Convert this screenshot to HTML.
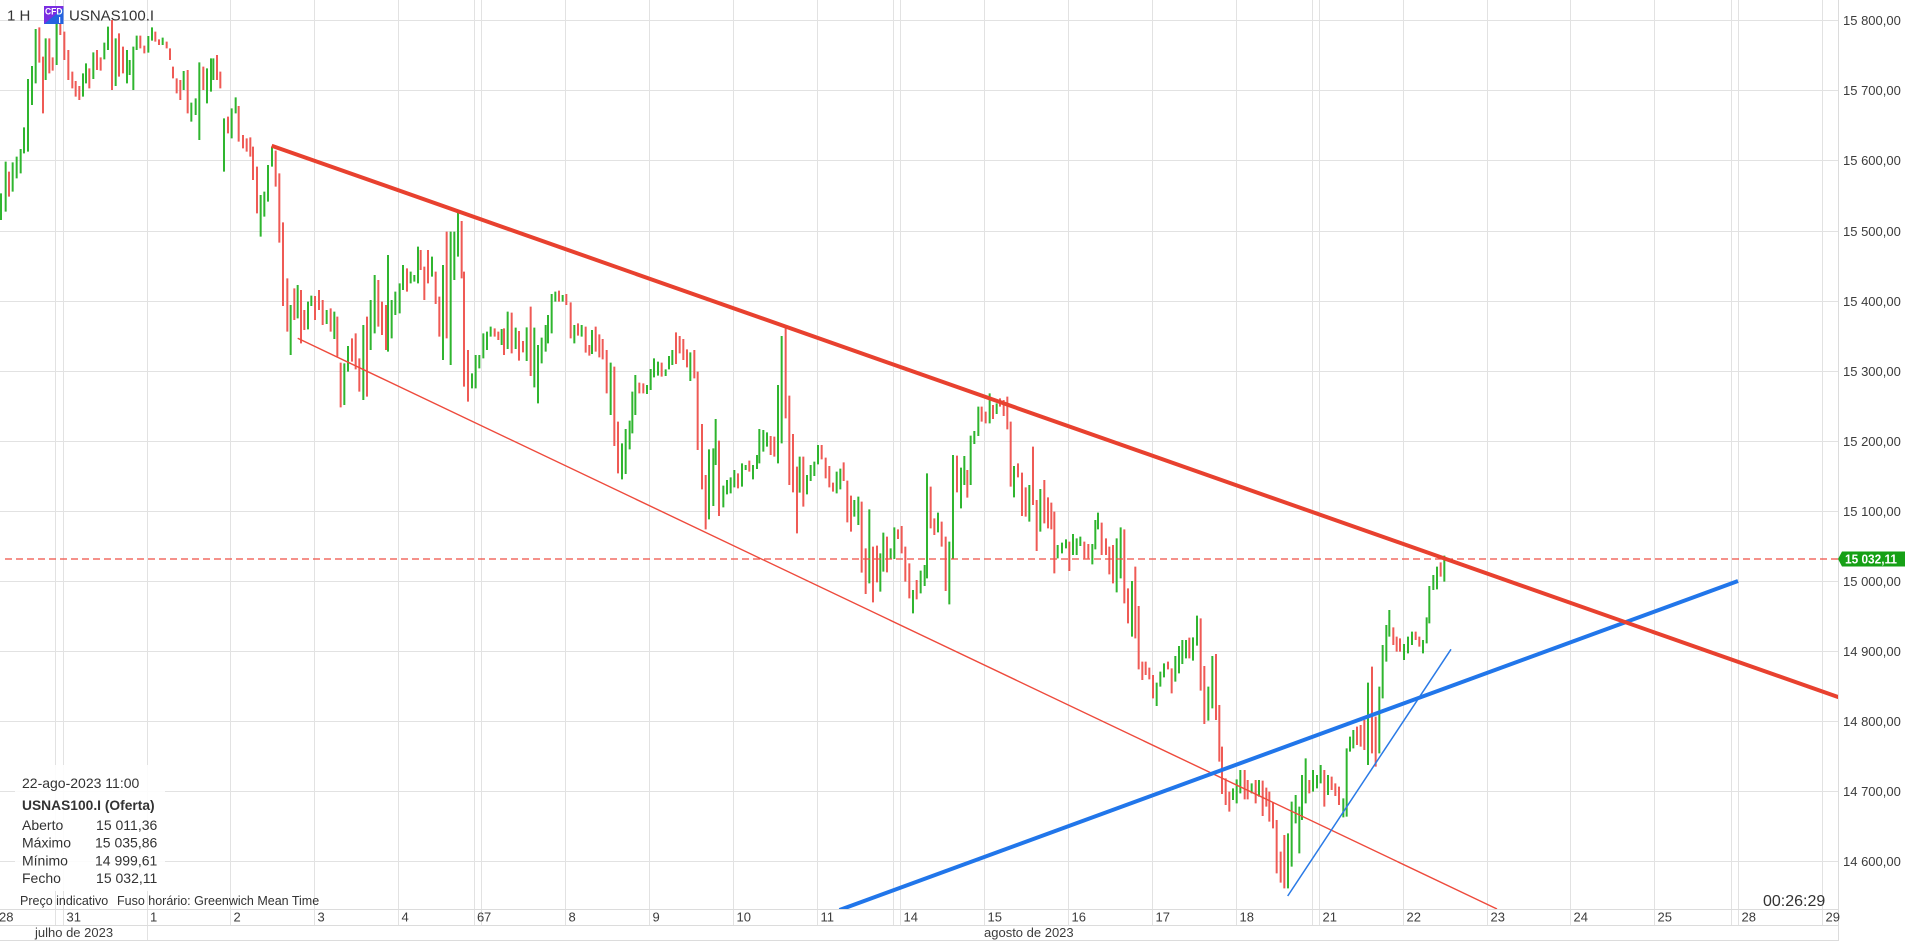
<!DOCTYPE html>
<html>
<head>
<meta charset="utf-8">
<style>
html,body{margin:0;padding:0;background:#fff;}
body{width:1905px;height:942px;overflow:hidden;}
svg{display:block;}
</style>
</head>
<body>
<svg width="1905" height="942" viewBox="0 0 1905 942" xmlns="http://www.w3.org/2000/svg" font-family="'Liberation Sans', Arial, sans-serif">
<defs>
<clipPath id="plot"><rect x="0" y="0" width="1838" height="909"/></clipPath>
</defs>
<rect x="0" y="0" width="1905" height="942" fill="#fff"/>

<!-- horizontal grid -->
<g stroke="#e2e2e2" stroke-width="1">
<path d="M0 20.5H1838M0 90.5H1838M0 160.5H1838M0 231.5H1838M0 301.5H1838M0 371.5H1838M0 441.5H1838M0 511.5H1838M0 581.5H1838M0 651.5H1838M0 721.5H1838M0 791.5H1838M0 861.5H1838"/>
<path d="M55.5 0V925M63.5 0V925M147.5 0V941M230.5 0V925M314.5 0V925M398.5 0V925M474.5 0V925M481.5 0V925M565.5 0V925M649.5 0V925M733.5 0V925M817.5 0V925M893.5 0V925M900.5 0V925M984.5 0V925M1068.5 0V925M1152.5 0V925M1236.5 0V925M1312.5 0V925M1319.5 0V925M1403.5 0V925M1487.5 0V925M1570.5 0V925M1654.5 0V925M1731.5 0V925M1738.5 0V925M1822.5 0V925"/>
</g>
<!-- axis frame -->
<g stroke="#dcdcdc" stroke-width="1">
<path d="M0 909.5H1838.5M0 925.5H1838.5M0 940.5H1838.5M1838.5 0V941"/>
</g>

<g clip-path="url(#plot)">
<!-- bars zone 1 -->
<g transform="translate(0,0) scale(0.33333)" fill="none" stroke-width="6">
<path stroke="#2fb52f" d="M3 580V660M17 485V635M38 487V575M50 470V535M62 447V520M72 382V460M84 237V455M96 198V315M107 87V250M137 115V240M170 55V195M249 220V290M258 190V250M280 157V237M313 128V178M324 80V150M347 115V258M381 150V250M389 180V225M400 140V270M410 107V150M445 108V158M456 82V122M488 113V135M551 213V270M574 308V365M587 295V345M598 187V420M621 205V310M633 175V275M640 175V240M672 355V515M695 325V415M707 292V340M782 585V710M793 575V650M804 495V605M816 440V500M872 915V1065M893 855V955M924 905V988M934 887V918M980 930V972M1003 935V1017M1033 1090V1215M1044 1038V1115M1090 975V1200M1112 900V1050M1124 825V1000M1164 765V1055M1175 900V1015M1186 875V945M1199 850V940M1209 795V870M1232 815V850M1243 825V845M1254 740V850M1296 770V830M1329 795V1080M1352 695V1095M1363 695V840M1374 635V770M1416 1120V1165M1427 1065V1165M1438 1065V1105M1450 1000V1075M1461 995V1050M1472 980V1010"/>
<path stroke="#ef5a55" d="M27 515V590M118 82V188M129 170V340M148 115V220M158 172V212M181 70V105M193 95V180M205 150V240M217 215V265M227 243V290M238 258V300M268 205V265M291 150V210M302 172V212M336 60V270M357 100V230M369 140V220M421 107V145M433 137V160M466 95V125M477 118V135M500 125V145M510 145V180M519 200V235M530 235V280M541 240V300M563 210V340M610 200V270M651 165V240M661 215V265M684 350V400M716 318V425M729 405V445M740 415V455M751 412V470M759 440V540M771 500V640M827 452V560M838 520V728M849 667V918M862 835V995M883 865V960M903 870V1030M913 930V990M945 888V960M957 870V930M968 900V975M992 925V995M1012 950V1070M1022 1088V1222M1056 1015V1085M1067 1000V1108M1078 1075V1175M1101 950V1190M1135 840V980M1146 905V1005M1158 915V1050M1221 805V875M1262 750V810M1273 800V900M1284 750V850M1307 815V912M1318 890V1010M1340 695V1015M1385 663V835M1392 815V1160M1404 1050V1205M1484 985V1010M1495 995V1020"/>
</g>
<!-- bars zone 2 -->
<g transform="translate(495,270) scale(0.33333)" fill="none" stroke-width="6">
<path stroke="#2fb52f" d="M20 177V225M38 125V237M62 173V237M95 172V273M118 173V352M129 225V400M140 203V280M152 165V245M159 135V220M170 72V190M181 65V95M203 75V95M238 165V220M260 165V200M291 180V252M347 278V435M381 520V628M392 477V612M404 452V538M412 365V490M421 315V435M456 345V372M467 297V360M477 265V322M489 275V317M512 298V318M522 258V298M532 240V285M586 247V333M642 538V748M655 535V708M662 447V585M685 647V712M696 630V673M707 622V670M718 600V652M741 580V650M752 585V600M774 585V628M786 555V597M793 477V580M805 480V545M816 487V530M849 345V580M860 198V520M914 560V668M936 615V673M947 585V633M958 575V618M969 525V583M1025 605V670M1036 596V658M1078 690V740M1090 680V765M1123 718V940M1156 850V965M1165 788V905M1187 835V868M1198 772V867M1254 960V1030M1277 902V970M1289 885V948M1296 610V925M1329 728V787M1363 815V1003M1374 555V868M1398 593V715M1408 558V645M1427 497V645M1438 483V522M1450 410V498M1484 370V460"/>
<path stroke="#ef5a55" d="M27 175V255M50 128V250M72 183V272M84 213V247M107 110V318M192 62V95M214 72V105M227 97V205M249 160V197M272 170V248M283 225V257M302 170V245M313 193V262M323 207V268M335 240V370M358 290V528M369 455V610M433 338V370M445 340V370M500 278V320M543 187V282M554 198V250M565 207V270M576 238V292M598 240V325M608 305V540M621 462V658M632 615V778M672 512V738M729 610V655M763 572V605M827 498V555M838 500V560M872 172V445M883 377V645M894 492V667M906 590V790M925 560V710M980 525V568M992 563V625M1003 588V652M1014 638V665M1046 577V633M1057 632V757M1068 677V785M1100 695V908M1112 835V972M1134 830V997M1146 827V937M1176 800V907M1209 778V807M1220 768V850M1231 830V935M1243 880V985M1265 930V988M1307 650V775M1318 745V795M1340 755V830M1352 800V963M1386 557V667M1417 600V683M1460 410V455M1472 425V460M1494 405V447"/>
</g>
<!-- bars zone 3 -->
<g transform="translate(990,390) scale(0.33333)" fill="none" stroke-width="6">
<path stroke="#2fb52f" d="M20 40V72M72 228V322M118 285V395M151 297V425M203 465V505M216 458V490M228 448V475M249 432V495M260 445V495M271 440V468M307 462V523M316 390V478M324 368V418M380 445V607M392 412V565M426 573V740M500 878V948M511 845V890M522 820V862M556 798V875M567 768V850M577 750V822M588 750V805M609 742V812M621 677V767M655 890V992M667 798V955M729 1195V1230M740 1168V1240M751 1140V1210M785 1180V1210M807 1170V1220M894 1330V1495M905 1235V1430M917 1215V1300M928 1250V1390M936 1155V1290M947 1105V1240M969 1140V1205M981 1155V1195M992 1125V1180M1014 1155V1215M1060 1225V1282M1070 1075V1280M1080 1040V1085M1090 1020V1075M1134 878V1125M1168 890V1090M1178 765V925M1189 705V815M1198 660V740M1242 762V810M1254 740V790M1266 725V765M1299 750V790M1310 682V760M1318 588V700M1330 555V600M1341 530V598M1363 497V575"/>
<path stroke="#ef5a55" d="M30 25V50M41 30V78M52 20V118M62 95V290M84 220V262M96 248V378M107 292V380M129 170V345M140 330V483M163 270V400M174 322V415M184 338V418M193 365V550M238 455V543M283 455V505M295 462V505M335 398V495M348 445V495M358 470V553M369 465V580M403 418V640M414 595V700M436 530V745M446 648V838M457 815V870M467 815V855M478 833V868M489 855V925M534 815V838M545 835V910M598 743V805M632 685V902M643 828V1002M678 792V990M688 945V1115M696 1070V1212M707 1165V1245M718 1205V1265M764 1140V1228M773 1170V1228M797 1170V1240M818 1172V1278M829 1193V1250M838 1205V1295M849 1237V1315M860 1290V1450M872 1385V1478M883 1335V1495M958 1170V1210M1003 1140V1250M1025 1160V1200M1036 1180V1218M1047 1190V1245M1101 1010V1065M1112 1005V1070M1123 990V1080M1146 830V1090M1157 980V1130M1210 712V765M1220 740V785M1230 745V785M1277 725V750M1288 740V770M1352 517V560"/>
</g>

<!-- current price dashed line -->
<line x1="5" y1="559" x2="1838" y2="559" stroke="#ef4f45" stroke-width="1.2" stroke-dasharray="7 4"/>

<!-- trend lines -->
<line x1="297.7" y1="338.3" x2="1497" y2="909" stroke="#ee4a3c" stroke-width="1.4"/>
<line x1="1287.7" y1="896" x2="1451" y2="649.3" stroke="#2a7ae6" stroke-width="1.5"/>
<line x1="839.5" y1="910" x2="1738" y2="581" stroke="#2176ea" stroke-width="4"/>
<line x1="271.7" y1="145.7" x2="1845" y2="699.5" stroke="#e8412f" stroke-width="4"/>
</g>

<!-- price labels -->
<g font-size="13" fill="#3c3c3c">
<text x="1843" y="25">15 800,00</text>
<text x="1843" y="95">15 700,00</text>
<text x="1843" y="165">15 600,00</text>
<text x="1843" y="236">15 500,00</text>
<text x="1843" y="306">15 400,00</text>
<text x="1843" y="376">15 300,00</text>
<text x="1843" y="446">15 200,00</text>
<text x="1843" y="516">15 100,00</text>
<text x="1843" y="586">15 000,00</text>
<text x="1843" y="656">14 900,00</text>
<text x="1843" y="726">14 800,00</text>
<text x="1843" y="796">14 700,00</text>
<text x="1843" y="866">14 600,00</text>
</g>

<!-- current price tag -->
<polygon points="1838,559 1842,551.5 1905,551.5 1905,566.5 1842,566.5" fill="#16a016"/>
<text x="1845" y="563.5" font-size="12.5" font-weight="bold" fill="#fff" textLength="52" lengthAdjust="spacingAndGlyphs">15 032,11</text>

<!-- day labels -->
<g font-size="13" fill="#3c3c3c">
<text x="-1" y="921.5">28</text>
<text x="66.5" y="921.5">31</text>
<text x="150" y="921.5">1</text>
<text x="233.5" y="921.5">2</text>
<text x="317.5" y="921.5">3</text>
<text x="401.5" y="921.5">4</text>
<text x="477" y="921.5">6</text>
<text x="484" y="921.5">7</text>
<text x="568.5" y="921.5">8</text>
<text x="652.5" y="921.5">9</text>
<text x="736.5" y="921.5">10</text>
<text x="820.5" y="921.5">11</text>
<text x="903.5" y="921.5">14</text>
<text x="987.5" y="921.5">15</text>
<text x="1071.5" y="921.5">16</text>
<text x="1155.5" y="921.5">17</text>
<text x="1239.5" y="921.5">18</text>
<text x="1322.5" y="921.5">21</text>
<text x="1406.5" y="921.5">22</text>
<text x="1490.5" y="921.5">23</text>
<text x="1573.5" y="921.5">24</text>
<text x="1657.5" y="921.5">25</text>
<text x="1741.5" y="921.5">28</text>
<text x="1825.5" y="921.5">29</text>
<text x="35" y="937">julho de 2023</text>
<text x="984" y="937">agosto de 2023</text>
</g>

<!-- timer -->
<text x="1763" y="906" font-size="16" fill="#333">00:26:29</text>

<!-- header -->
<text x="7" y="20.5" font-size="15" fill="#333">1 H</text>
<rect x="44" y="6" width="19.5" height="18" fill="#7a2de2"/>
<polygon points="44,24 63.5,8 63.5,24" fill="#2463e0"/>
<text x="45" y="14.5" font-size="9" font-weight="bold" fill="#fff" textLength="17.5" lengthAdjust="spacingAndGlyphs">CFD</text>
<text x="58.5" y="23" font-size="8" font-weight="bold" fill="#fff">I</text>
<text x="69" y="20.5" font-size="15" fill="#333">USNAS100.I</text>

<!-- info box -->
<rect x="15" y="765" width="150" height="126" fill="#ffffff" fill-opacity="0.9"/>
<g font-size="14" fill="#333">
<text x="22" y="788">22-ago-2023 11:00</text>
<text x="22" y="810" font-weight="bold" font-size="13.8">USNAS100.I (Oferta)</text>
<text x="22" y="830">Aberto</text>
<text x="22" y="847.7">Máximo</text>
<text x="22" y="865.4">Mínimo</text>
<text x="22" y="883.1">Fecho</text>
<g text-anchor="end">
<text x="157.3" y="830">15 011,36</text>
<text x="157.3" y="847.7">15 035,86</text>
<text x="157.3" y="865.4">14 999,61</text>
<text x="157.3" y="883.1">15 032,11</text>
</g>
</g>
<g font-size="12.5" fill="#333">
<text x="20" y="905">Preço indicativo</text>
<text x="117" y="905">Fuso horário: Greenwich Mean Time</text>
</g>
</svg>
</body>
</html>
